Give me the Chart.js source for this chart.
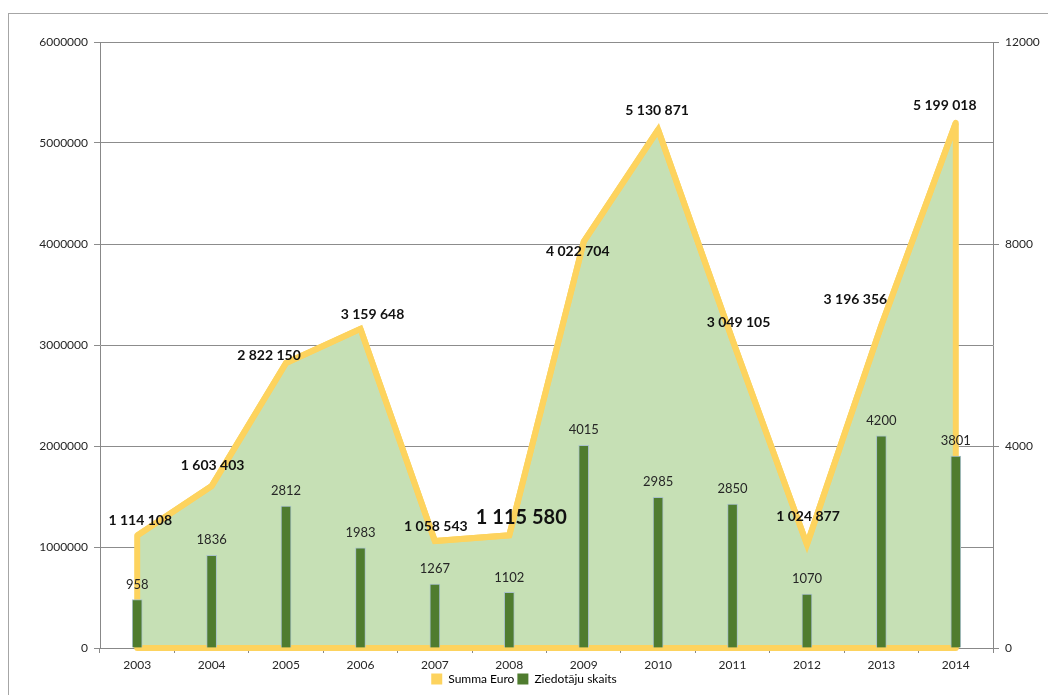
<!DOCTYPE html>
<html>
<head>
<meta charset="utf-8">
<script src="https://cdn.jsdelivr.net/npm/chart.js@4"></script>
<style>
  body { margin: 0; background: #fff; }
  #frame { position: absolute; left: 8px; top: 13px; width: 1045px; height: 700px; border: 1px solid #a6a6a6; }
  #wrap { position: absolute; left: 0; top: 0; width: 1048px; height: 695px; }
</style>
</head>
<body>
<div id="frame"></div>
<div id="wrap"><canvas id="graph"></canvas></div>
<script>
const years = ["2003","2004","2005","2006","2007","2008","2009","2010","2011","2012","2013","2014"]
const summaEuro = [1114108, 1603403, 2822150, 3159648, 1058543, 1115580, 4022704, 5130871, 3049105, 1024877, 3196356, 5199018]
const ziedotaji = [958, 1836, 2812, 1983, 1267, 1102, 4015, 2985, 2850, 1070, 4200, 3801]
const leftTicks = [0, 1000000, 2000000, 3000000, 4000000, 5000000, 6000000]
const rightTicks = [0, 4000, 8000, 12000]

// label offsets for the area values (dx, dy from the point)
const labelOffsets = [[3,-15],[1,-21],[-17,-7],[12,-14],[1,-15],[12,-18],[-6,10],[-1,-19],[6,-18],[1,-28],[-26,-26],[-11,-17]]

const graph = document.getElementById("graph").getContext("2d")

const fmt = v => String(v).replace(/\B(?=(\d{3})+(?!\d))/g, " ")

const areaOutline = {
    id: "areaOutline",
    afterDatasetDraw(chart, args) {
        if (args.index !== 1) return
        const pts = args.meta.data
        const base = chart.scales.y.getPixelForValue(0)
        const ctx = chart.ctx
        ctx.save()
        ctx.beginPath()
        ctx.moveTo(pts[0].x, base)
        pts.forEach(p => ctx.lineTo(p.x, p.y))
        ctx.lineTo(pts[pts.length - 1].x, base)
        ctx.closePath()
        ctx.lineWidth = 6
        ctx.lineJoin = "round"
        ctx.strokeStyle = "#fdd35e"
        ctx.stroke()
        ctx.restore()
    }
}

const valueLabels = {
    id: "valueLabels",
    afterDraw(chart) {
        const ctx = chart.ctx
        ctx.save()
        ctx.textAlign = "center"
        ctx.textBaseline = "middle"
        ctx.fillStyle = "#262626"
        ctx.font = "13px Lato"
        chart.getDatasetMeta(0).data.forEach((b, i) => {
            ctx.fillText(String(ziedotaji[i]), b.x, b.y - 15)
        })
        ctx.fillStyle = "#111"
        chart.getDatasetMeta(1).data.forEach((p, i) => {
            ctx.font = i === 5 ? "bold 20px Lato" : "bold 14px Lato"
            ctx.fillText(fmt(summaEuro[i]), p.x + labelOffsets[i][0], p.y + labelOffsets[i][1])
        })
        ctx.restore()
    }
}

const data = {
    labels: years,
    datasets: [
        {
            type: "bar",
            label: "Ziedotāju skaits",
            data: ziedotaji,
            yAxisID: "y1",
            backgroundColor: "#4f7c2f",
            borderColor: "#a9c1c9",
            borderWidth: 1,
            barThickness: 10,
            order: 1,
        },
        {
            type: "line",
            label: "Summa Euro",
            data: summaEuro,
            yAxisID: "y",
            backgroundColor: "#c6e0b5",
            borderColor: "#fdd35e",
            borderWidth: 6,
            pointRadius: 0,
            fill: "origin",
            tension: 0,
            order: 2,
        },
    ],
}

const config = {
    type: "bar",
    data: data,
    plugins: [areaOutline, valueLabels],
    options: {
        responsive: true,
        maintainAspectRatio: false,
        animation: false,
        layout: { padding: { top: 42, left: 0, right: 0, bottom: 0 } },
        plugins: {
            tooltip: { enabled: false },
            legend: {
                position: "bottom",
                labels: {
                    color: "#262626",
                    font: { family: "Lato", size: 12 },
                    boxWidth: 11,
                    boxHeight: 11,
                    padding: 3,
                    generateLabels: chart => [
                        { text: "Summa Euro", fillStyle: "#fdd35e", strokeStyle: "#fdd35e", lineWidth: 0, datasetIndex: 1 },
                        { text: "Ziedotāju skaits", fillStyle: "#4f7c2f", strokeStyle: "#4f7c2f", lineWidth: 0, datasetIndex: 0 },
                    ],
                },
            },
        },
        scales: {
            x: {
                offset: true,
                grid: { drawOnChartArea: false, offset: true, tickLength: 5, color: "#888" },
                border: { color: "#888" },
                ticks: { color: "#262626", font: { family: "Lato", size: 12 }, padding: 5 },
                afterFit: s => { s.height = 22 },
            },
            y: {
                position: "left",
                min: 0,
                max: 6000000,
                afterBuildTicks: s => { s.ticks = leftTicks.map(v => ({ value: v })) },
                grid: { color: "#8c8c8c", tickLength: 6 },
                border: { color: "#888" },
                ticks: { color: "#262626", font: { family: "Lato", size: 12 }, padding: 6, callback: v => String(v) },
                afterFit: s => { s.width = 100 },
            },
            y1: {
                position: "right",
                min: 0,
                max: 12000,
                afterBuildTicks: s => { s.ticks = rightTicks.map(v => ({ value: v })) },
                grid: { drawOnChartArea: false, tickLength: 6, color: "#888" },
                border: { color: "#888" },
                ticks: { color: "#262626", font: { family: "Lato", size: 12 }, padding: 6, callback: v => String(v) },
                afterFit: s => { s.width = 55 },
            },
        },
    },
}

let myChart = new Chart(graph, config)
</script>
</body>
</html>
